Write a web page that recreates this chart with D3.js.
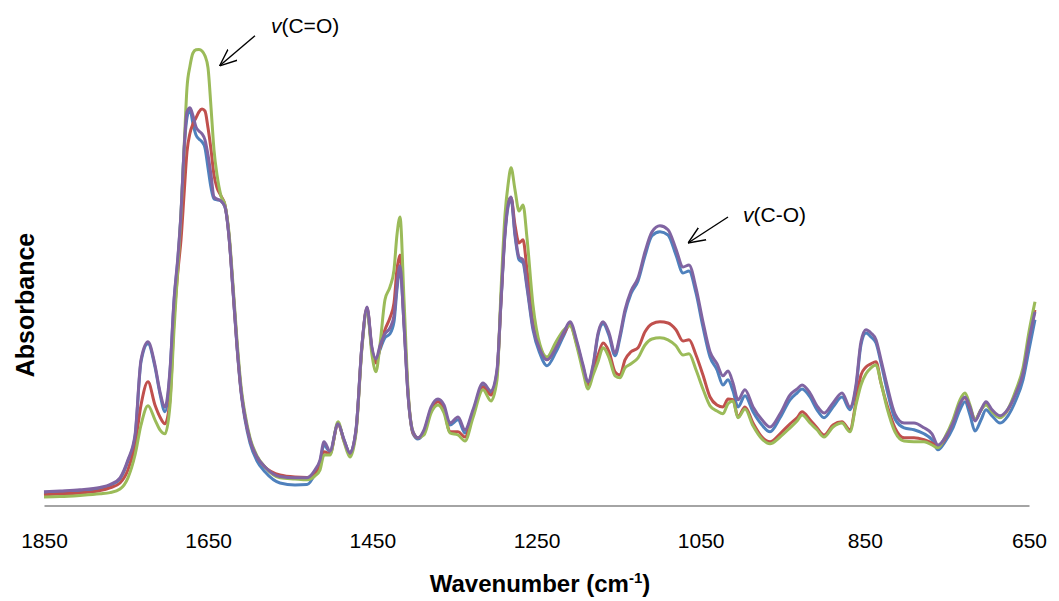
<!DOCTYPE html>
<html lang="en">
<head>
  <meta charset="utf-8"/>
  <title>IR spectra</title>
  <script src="https://d3js.org/d3.v7.min.js"></script>
  <style>
    html, body { margin: 0; padding: 0; background: #fff; }
    svg { display: block; font-family: "Liberation Sans", Arial, sans-serif; }
  </style>
</head>
<body>
<svg id="chart" width="1059" height="601"></svg>
<script>
  // wavenumbers (cm-1), shared by all four spectra
  const wavenumber = [1850,1830.5,1806.1,1781.8,1769.6,1757.4,1747.7,1739.1,1731.8,1723.3,1714.8,1708.7,1702.6,1696.5,1691.6,1686.7,1683.1,1679.4,1675.8,1672.1,1668.5,1664.8,1661.2,1657.5,1653.9,1650.2,1646.5,1642.9,1639.2,1634.4,1629.5,1624.6,1619.7,1614.9,1610.0,1605.1,1599.0,1590.5,1580.8,1562.5,1544.2,1529.6,1519.8,1513.7,1508.9,1501.6,1491.8,1484.5,1477.2,1469.9,1462.6,1456.5,1450.4,1445.6,1440.7,1434.6,1428.5,1423.6,1420.0,1416.3,1411.4,1406.5,1400.4,1394.4,1387.1,1378.5,1370.0,1362.7,1355.4,1345.6,1337.1,1327.4,1315.2,1305.4,1298.1,1293.2,1288.4,1284.7,1281.0,1276.2,1271.3,1266.4,1261.6,1254.3,1245.7,1237.2,1226.2,1216.5,1209.2,1200.6,1193.3,1187.2,1181.1,1175.0,1168.9,1161.6,1154.3,1148.3,1142.2,1134.9,1126.3,1117.8,1109.3,1099.6,1089.8,1080.1,1071.5,1064.2,1055.7,1047.2,1038.6,1030.1,1022.8,1016.7,1010.6,1004.5,996.0,986.2,975.3,965.5,953.3,941.1,932.6,926.5,916.8,908.3,899.7,888.8,877.8,868.1,860.8,854.7,848.6,842.5,836.4,830.3,823.0,813.3,802.2,790.1,777.9,768.2,760.9,752.3,742.6,734.1,728.0,721.9,715.8,708.4,702.4,695.0,685.3,675.6,665.8,657.3,650.0,642.7];

  const blue = [.030,.033,.035,.041,.049,.065,.110,.170,.358,.403,.345,.278,.233,.333,.508,.620,.728,.883,.968,.988,.953,.925,.915,.908,.893,.843,.793,.765,.763,.760,.745,.670,.533,.395,.283,.213,.155,.110,.083,.055,.050,.051,.078,.108,.150,.133,.203,.163,.130,.188,.400,.490,.388,.358,.388,.418,.428,.458,.538,.593,.450,.275,.178,.165,.183,.240,.260,.243,.200,.213,.180,.233,.298,.280,.333,.508,.675,.745,.765,.673,.613,.605,.543,.438,.378,.348,.383,.425,.453,.403,.345,.303,.345,.425,.453,.423,.373,.418,.480,.528,.560,.623,.673,.683,.675,.625,.580,.585,.530,.445,.370,.338,.300,.313,.285,.245,.273,.233,.200,.183,.218,.263,.280,.290,.270,.238,.218,.245,.270,.238,.293,.400,.430,.420,.405,.355,.288,.215,.193,.188,.178,.163,.138,.158,.193,.238,.258,.225,.185,.213,.238,.223,.205,.223,.263,.313,.388,.463];

  const red = [.025,.028,.030,.036,.043,.055,.088,.150,.250,.308,.250,.220,.203,.263,.463,.588,.663,.775,.883,.930,.953,.968,.983,.990,.985,.943,.888,.825,.793,.773,.750,.673,.538,.400,.288,.220,.163,.120,.095,.075,.070,.069,.080,.100,.133,.128,.203,.160,.128,.185,.398,.493,.388,.355,.393,.438,.468,.505,.588,.625,.463,.280,.180,.168,.183,.238,.258,.238,.183,.183,.170,.228,.295,.275,.330,.513,.688,.755,.768,.700,.655,.663,.588,.463,.395,.363,.395,.430,.450,.400,.343,.300,.338,.375,.405,.383,.333,.325,.363,.383,.393,.433,.453,.458,.455,.438,.410,.413,.375,.325,.270,.250,.245,.265,.263,.220,.245,.205,.170,.158,.178,.203,.218,.233,.213,.193,.175,.200,.208,.188,.258,.325,.345,.353,.358,.305,.250,.193,.168,.168,.163,.155,.145,.165,.208,.255,.268,.243,.213,.238,.253,.235,.220,.238,.283,.333,.418,.488];

  const green = [.020,.021,.024,.028,.031,.040,.068,.125,.200,.248,.213,.188,.178,.250,.438,.600,.725,.888,1.043,1.098,1.130,1.138,1.139,1.135,1.123,1.093,.993,.888,.825,.773,.750,.680,.550,.413,.298,.228,.168,.123,.095,.068,.065,.063,.073,.088,.125,.125,.208,.158,.120,.180,.393,.490,.375,.333,.400,.513,.545,.588,.675,.720,.513,.288,.183,.168,.175,.230,.250,.230,.180,.175,.160,.218,.288,.260,.313,.538,.725,.800,.843,.788,.735,.750,.668,.500,.400,.370,.408,.438,.448,.395,.333,.290,.325,.358,.393,.368,.323,.318,.343,.353,.368,.400,.415,.418,.413,.398,.375,.378,.338,.290,.248,.235,.228,.253,.260,.218,.240,.198,.165,.153,.170,.193,.210,.225,.205,.188,.170,.195,.205,.183,.250,.300,.328,.343,.350,.305,.243,.183,.160,.158,.158,.150,.143,.170,.213,.263,.280,.250,.213,.238,.250,.233,.218,.240,.288,.343,.433,.508];

  const purple = [.033,.035,.038,.044,.051,.068,.113,.175,.363,.408,.350,.283,.245,.338,.513,.625,.730,.888,.983,.993,.973,.945,.935,.928,.913,.875,.825,.770,.765,.760,.745,.670,.538,.400,.288,.220,.163,.120,.095,.071,.068,.068,.088,.113,.158,.135,.203,.163,.130,.188,.400,.495,.393,.365,.398,.428,.443,.473,.550,.598,.450,.275,.183,.168,.188,.245,.265,.250,.205,.220,.188,.238,.305,.285,.338,.513,.680,.750,.770,.680,.620,.613,.550,.445,.388,.363,.393,.433,.458,.408,.350,.308,.350,.430,.458,.430,.380,.425,.488,.535,.568,.633,.683,.698,.688,.640,.595,.600,.543,.458,.383,.353,.323,.335,.305,.263,.288,.245,.213,.195,.228,.275,.290,.300,.280,.248,.230,.255,.280,.245,.300,.408,.438,.430,.413,.363,.300,.228,.205,.205,.193,.178,.150,.168,.205,.253,.270,.245,.210,.238,.258,.238,.223,.240,.280,.330,.413,.483];

  const seriesColors = ["#4F81BD", "#C0504D", "#9BBB59", "#8064A2"];
  const xTicks = [1850, 1650, 1450, 1250, 1050, 850, 650];

  // peak labels: arrow tip and tail in data units
  const notes = [
    { label: "(C=O)", tip: [1636, 1.098], tail: [1593, 1.173], dx: 16, dy: -3 },
    { label: "(C-O)", tip: [1065.4, 0.655], tail: [1016.7, 0.72], dx: 15, dy: 5 }
  ];

  const svg = d3.select("#chart");
  svg.append("rect").attr("width", 1059).attr("height", 601).attr("fill", "#fff");

  const x = d3.scaleLinear().domain([1850, 650]).range([44, 1029]);
  const y = d3.scaleLinear().domain([0, 1.15]).range([505, 45]);

  // x axis
  const xAxis = svg.append("g")
    .attr("transform", "translate(0,505.5)")
    .call(d3.axisBottom(x).tickValues(xTicks).tickSize(0).tickFormat(d3.format("d")));
  xAxis.select(".domain").attr("stroke", "#868686").attr("stroke-width", 1.4);
  xAxis.selectAll("text")
    .attr("y", 42.5).attr("dy", 0)
    .attr("fill", "#000")
    .style("font-size", "21px")
    .style("font-family", "'Liberation Sans', Arial, sans-serif");

  const xTitle = svg.append("text")
    .attr("x", 540).attr("y", 592)
    .attr("text-anchor", "middle")
    .style("font-size", "24px").style("font-weight", "bold");
  xTitle.append("tspan").text("Wavenumber (cm");
  xTitle.append("tspan").attr("dy", -9).style("font-size", "15px").text("-1");
  xTitle.append("tspan").attr("dy", 9).text(")");

  svg.append("text")
    .attr("transform", "translate(33.5,305) rotate(-90)")
    .attr("text-anchor", "middle")
    .style("font-size", "25px").style("font-weight", "bold")
    .text("Absorbance");

  // spectra
  const line = d3.line()
    .x((d, i) => x(wavenumber[i]))
    .y(d => y(d))
    .curve(d3.curveMonotoneX);

  [blue, red, green, purple].forEach(function(s, k) {
    svg.append("path")
      .datum(s)
      .attr("d", line)
      .attr("fill", "none")
      .attr("stroke", seriesColors[k])
      .attr("stroke-width", 3)
      .attr("stroke-linejoin", "round");
  });

  // arrows + labels
  svg.append("defs").append("marker")
    .attr("id", "head")
    .attr("viewBox", "0 0 10 10")
    .attr("refX", 10).attr("refY", 5)
    .attr("markerUnits", "userSpaceOnUse")
    .attr("markerWidth", 17).attr("markerHeight", 17)
    .attr("orient", "auto")
    .append("path")
    .attr("d", "M0,0.8L10,5L0,9.2")
    .attr("fill", "none")
    .attr("stroke", "#000")
    .attr("stroke-width", 0.8);

  notes.forEach(function(n) {
    svg.append("line")
      .attr("x1", x(n.tail[0])).attr("y1", y(n.tail[1]))
      .attr("x2", x(n.tip[0])).attr("y2", y(n.tip[1]))
      .attr("stroke", "#000").attr("stroke-width", 1.4)
      .attr("marker-end", "url(#head)");
    const t = svg.append("text")
      .attr("x", x(n.tail[0]) + n.dx)
      .attr("y", y(n.tail[1]) + n.dy)
      .style("font-size", "21px");
    t.append("tspan").style("font-style", "italic").text("v");
    t.append("tspan").text(n.label);
  });
</script>
</body>
</html>
